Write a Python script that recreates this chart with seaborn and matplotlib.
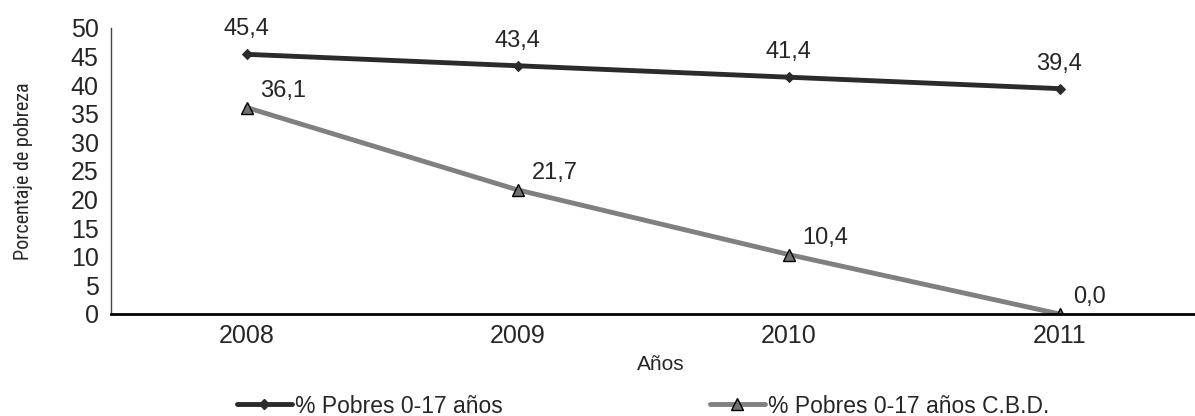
import matplotlib
matplotlib.use("Agg")
import matplotlib.pyplot as plt
import matplotlib.ticker as ticker
from matplotlib.lines import Line2D
import seaborn as sns
import pandas as pd

anios = ["2008", "2009", "2010", "2011"]
pobres = [45.4, 43.4, 41.4, 39.4]
pobres_cbd = [36.1, 21.7, 10.4, 0.0]
serie1 = "% Pobres 0-17 años"
serie2 = "% Pobres 0-17 años C.B.D."

df = pd.DataFrame({
    "Años": anios * 2,
    "Valor": pobres + pobres_cbd,
    "Serie": [serie1] * len(anios) + [serie2] * len(anios),
})
df["x"] = df["Años"].map({a: i for i, a in enumerate(anios)})

sns.set_style("white")
plt.rcParams['font.family'] = ['Liberation Sans', 'DejaVu Sans']
narrow = ['Liberation Sans Narrow', 'Roboto Condensed', 'Liberation Sans', 'DejaVu Sans']

fig = plt.figure(figsize=(11.95, 4.16), dpi=100)
ax = fig.add_axes([0.0929, 0.2452, 0.9071, 0.6875])

palette = {serie1: "#2b2b2b", serie2: "#808080"}
ax = sns.lineplot(data=df, x="x", y="Valor", hue="Serie", style="Serie",
                  palette=palette, markers={serie1: "D", serie2: "^"},
                  dashes=False, linewidth=3.5, ax=ax, legend=False)
for line, mk in zip(ax.get_lines(), ["D", "^"]):
    if mk == "D":
        line.set_markersize(5)
        line.set_markerfacecolor("#2b2b2b")
        line.set_markeredgecolor("#2b2b2b")
    else:
        line.set_markersize(8)
        line.set_markerfacecolor("#707070")
        line.set_markeredgecolor("black")
        line.set_markeredgewidth(1)

for i, v in enumerate(pobres):
    ax.annotate(f"{v:.1f}".replace(".", ","), (i, v), xytext=(0, 10),
                textcoords="offset points", ha="center", va="bottom", fontsize=17)
for i, v in enumerate(pobres_cbd):
    ax.annotate(f"{v:.1f}".replace(".", ","), (i, v), xytext=(10, 4),
                textcoords="offset points", ha="left", va="bottom", fontsize=17)

ax.set_xlim(-0.5, 3.5)
ax.set_ylim(0, 50)
ax.set_yticks(range(0, 51, 5))
ax.set_xticks(range(len(anios)))
ax.set_xticklabels(anios, fontsize=18)
ax.xaxis.set_minor_locator(ticker.FixedLocator([0.5, 1.5, 2.5]))
ax.tick_params(axis="x", which="major", length=0, pad=7)
ax.tick_params(axis="x", which="minor", length=6, width=1, direction="out", color="black")
ax.tick_params(axis="y", length=7, width=1, direction="out", color="black", labelsize=18, pad=2)

for s in ["top", "right"]:
    ax.spines[s].set_visible(False)
ax.spines["left"].set_color("#444444")
ax.spines["left"].set_linewidth(1)
ax.spines["bottom"].set_color("black")
ax.spines["bottom"].set_linewidth(2)

ax.set_xlabel("Años", fontsize=15)
ax.xaxis.set_label_coords(0.507, -0.145)
ax.set_ylabel("Porcentaje de pobreza", fontsize=14.5, family=narrow)
ax.yaxis.set_label_coords(-0.072, 0.5)

h1 = Line2D([], [], color="#2b2b2b", linewidth=3.5, marker="D", markersize=5)
h2 = Line2D([], [], color="#808080", linewidth=3.5, marker="^", markersize=8,
            markerfacecolor="#707070", markeredgecolor="black")
leg_kw = dict(loc="center left", frameon=False, borderpad=0, borderaxespad=0,
              handlelength=2.4, handletextpad=0.13, prop={"size": 16.5})
leg1 = fig.legend([h1], [serie1], bbox_to_anchor=(0.198, 0.024), **leg_kw)
leg2 = fig.legend([h2], [serie2], bbox_to_anchor=(0.594, 0.024), **leg_kw)

fig.savefig("out.png", dpi=100)
